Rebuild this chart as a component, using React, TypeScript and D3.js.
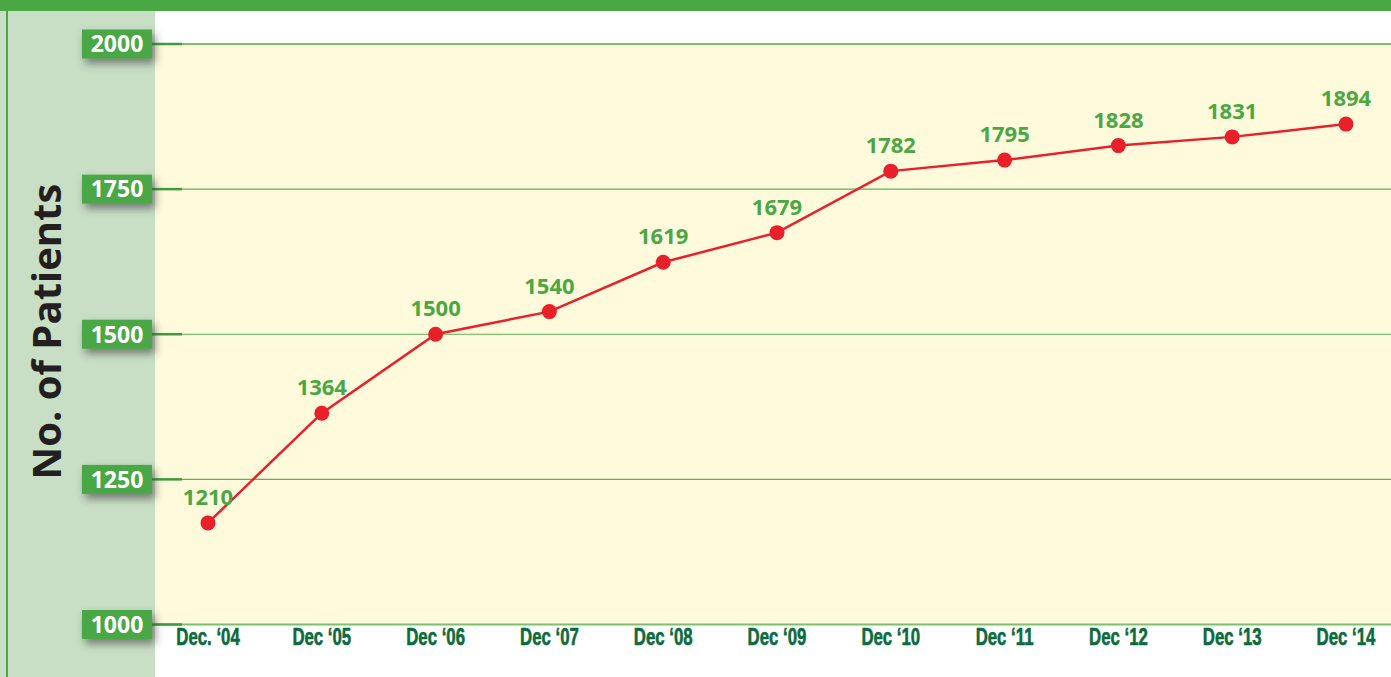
import React from "react";
import * as d3 from "d3";

// ---- data ----
const categories = ["Dec. \u201804", "Dec \u201805", "Dec \u201806", "Dec \u201807", "Dec \u201808", "Dec \u201809", "Dec \u201810", "Dec \u201811", "Dec \u201812", "Dec \u201813", "Dec \u201814"];
// values printed above each point
const patientLabels = [1210, 1364, 1500, 1540, 1619, 1679, 1782, 1795, 1828, 1831, 1894];
// values as the points are actually plotted in the picture
const plottedValues = [1175, 1364, 1500, 1539, 1624, 1675, 1781, 1800, 1825, 1840, 1862];
const yTicks = [1000, 1250, 1500, 1750, 2000];
const yTitle = "No. of Patients";

const W = 1391;
const H = 677;

export default function App() {
  const x = d3.scalePoint<string>().domain(categories).range([208, 1346]);
  const y = d3.scaleLinear().domain([1000, 2000]).range([624.5, 44]);

  const pts = categories.map((c, i) => ({ c, v: plottedValues[i], label: patientLabels[i] }));
  const line = d3
    .line<{ c: string; v: number }>()
    .x((d) => x(d.c) as number)
    .y((d) => y(d.v));

  const plotLeft = 155;
  const green = "#4aa844";

  return (
    <svg
      width={W}
      height={H}
      style={{ position: "absolute", left: 0, top: 0, display: "block", background: "#ffffff" }}
    >
      <defs>
        <filter id="boxShadow" x="-40%" y="-60%" width="200%" height="260%">
          <feDropShadow dx="3" dy="5" stdDeviation="4" floodColor="#3a3a3a" floodOpacity="0.6" />
        </filter>
      </defs>

      {/* left panel */}
      <rect x={0} y={0} width={plotLeft} height={H} fill="#c8dfc5" />
      {/* plot background */}
      <rect x={plotLeft} y={y(2000)} width={W - plotLeft} height={y(1000) - y(2000)} fill="#fffadc" />
      {/* top bar */}
      <rect x={0} y={0} width={W} height={11} fill={green} />
      {/* left vertical line */}
      <rect x={6} y={11} width={2} height={H - 11} fill={green} />

      {/* gridlines */}
      {yTicks.map((t) => {
        const edge = t === 1000 || t === 2000;
        return (
          <g key={"g" + t}>
            <line
              x1={152}
              x2={W}
              y1={y(t)}
              y2={y(t)}
              stroke={edge ? "#79c26b" : "#5cb352"}
              strokeWidth={edge ? 2 : 1.2}
            />
            <line x1={152} x2={182} y1={y(t)} y2={y(t)} stroke="#3d9c3b" strokeWidth={2.5} />
          </g>
        );
      })}

      {/* y tick boxes */}
      {yTicks.map((t) => (
        <g key={"t" + t}>
          <rect x={82} y={y(t) - 14.5} width={70} height={29} fill={green} filter="url(#boxShadow)" />
          <text
            x={117}
            y={y(t)}
            dy="0.36em"
            textAnchor="middle"
            fill="#ffffff"
            fontFamily="'Open Sans', 'Noto Sans', sans-serif"
            fontWeight={700}
            fontSize={23}
          >
            {t}
          </text>
        </g>
      ))}

      {/* y title */}
      <text
        transform={`translate(61, 331.5) rotate(-90)`}
        textAnchor="middle"
        fill="#231f20"
        fontFamily="'Open Sans', 'Noto Sans', sans-serif"
        fontWeight={700}
        fontSize={40}
      >
        {yTitle}
      </text>

      {/* x labels */}
      {categories.map((c) => (
        <text
          key={"x" + c}
          transform={`translate(${x(c)}, 645) scale(0.7, 1)`}
          textAnchor="middle"
          fill="#0b6b3c"
          stroke="#0b6b3c"
          strokeWidth={0.6}
          fontFamily="'Liberation Sans', Arial, sans-serif"
          fontWeight={700}
          fontSize={24}
        >
          {c}
        </text>
      ))}

      {/* line */}
      <path d={line(pts) || ""} fill="none" stroke="#e8202a" strokeWidth={2.5} />
      {pts.map((p) => (
        <circle key={"p" + p.c} cx={x(p.c)} cy={y(p.v)} r={7.5} fill="#e8202a" />
      ))}
      {pts.map((p) => (
        <text
          key={"l" + p.c}
          x={x(p.c)}
          y={y(p.v) - 26}
          dy="0.36em"
          textAnchor="middle"
          fill={green}
          fontFamily="'Open Sans', 'Noto Sans', sans-serif"
          fontWeight={700}
          fontSize={22}
        >
          {p.label}
        </text>
      ))}
    </svg>
  );
}
